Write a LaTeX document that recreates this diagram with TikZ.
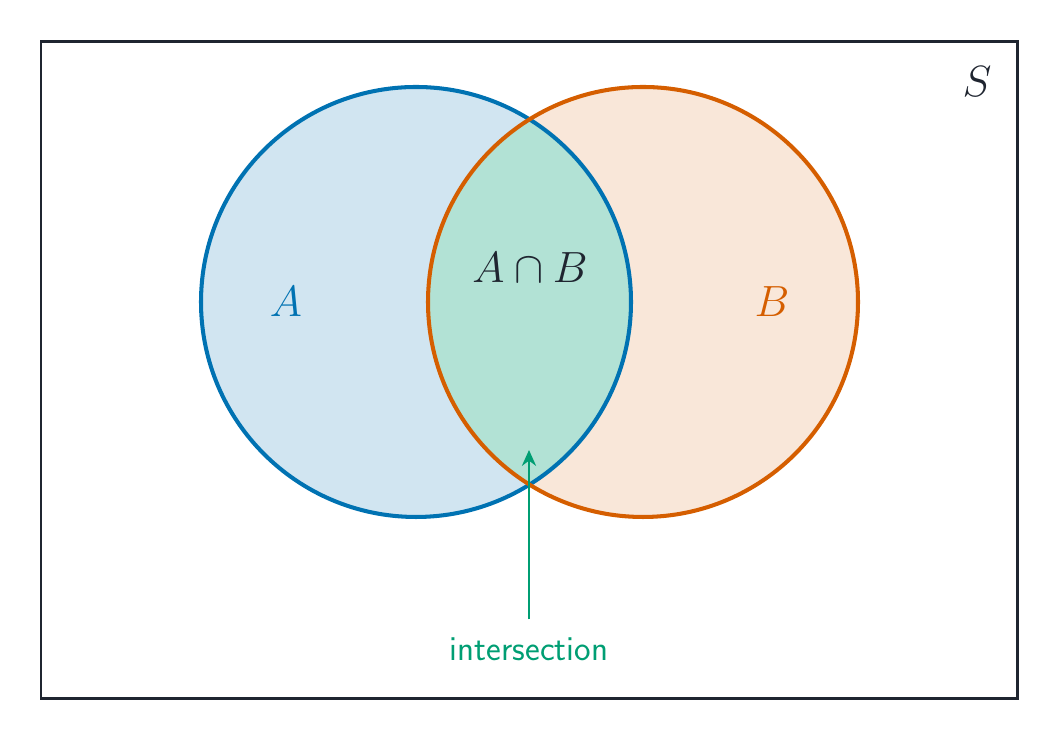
\documentclass[tikz,border=0pt]{standalone}
\usepackage{amsmath,amssymb}
\usetikzlibrary{arrows.meta}
\definecolor{setblue}{HTML}{0072B2}
\definecolor{setorange}{HTML}{D55E00}
\definecolor{setgreen}{HTML}{009E73}
\definecolor{frame}{HTML}{1F2530}
\begin{document}
\begin{tikzpicture}[x=0.02cm,y=0.02cm,
    every node/.style={font=\fontsize{24}{28}\selectfont},
    setline/.style={line width=2.3pt}]
  \useasboundingbox (0,0) rectangle (1059,742);
  \draw[frame,line width=1.7pt] (41,43) rectangle (1017,700);
  % fills
  \fill[setblue!18] (416,440) circle (215);
  \fill[setorange!15] (643,440) circle (215);
  \begin{scope}
    \clip (416,440) circle (215);
    \fill[setgreen!30] (643,440) circle (215);
  \end{scope}
  \draw[setline,setblue] (416,440) circle (215);
  \draw[setline,setorange] (643,440) circle (215);
  \node[setblue] (a) at (286,440) {$A$};
  \node[setorange] (b) at (772,440) {$B$};
  \node[frame] (ab) at (530,474) {$A\cap B$};
  \node[frame] (s) at (977,660) {$S$};
  \node[setgreen,font=\fontsize{20}{24}\selectfont\sffamily] (lbl) at (529,93) {intersection};
  \coordinate (tip) at (529,292);
  \draw[setgreen,line width=1.7pt,-{Stealth[length=9pt,width=8pt]}] (lbl.north) ++(0,12) -- (tip);
\end{tikzpicture}
\end{document}
